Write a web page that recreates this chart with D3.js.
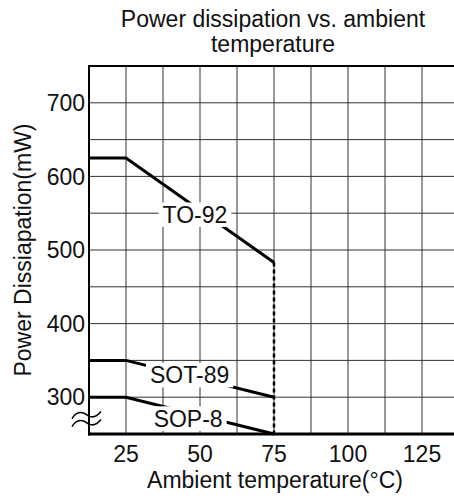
<!DOCTYPE html>
<html><head><meta charset="utf-8">
<script src="https://cdn.jsdelivr.net/npm/d3@7"></script>
<style>
html,body{margin:0;padding:0;background:#fff;overflow:hidden;}
text{font-family:Arial,"Liberation Sans",sans-serif;fill:#111;}
</style></head>
<body><svg id="c" width="454" height="498"></svg>
<script>
const title = ["Power dissipation vs. ambient", "temperature"];
const xLabel = "Ambient temperature(°C)";
const yLabel = "Power Dissiapation(mW)";
const xTicks = [25, 50, 75, 100, 125];
const yTicks = [300, 400, 500, 600, 700];
const xGrid = [25, 37.5, 50, 62.5, 75, 87.5, 100, 112.5, 125];
const yGrid = [300, 350, 400, 450, 500, 550, 600, 650, 700];
const xDomain = [12.5, 137.5];
const yDomain = [250, 750];
const temps = [12.5, 25, 75];
const seriesNames = ["TO-92", "SOT-89", "SOP-8"];
const seriesValues = [[625, 625, 483], [350, 350, 300], [300, 300, 250]];
const labelPos = [[48.3, 548], [46.5, 330], [46, 271]];
const cutoffTemp = 75;

const svg = d3.select("#c");
const x = d3.scaleLinear().domain(xDomain).range([89, 459]);
const y = d3.scaleLinear().domain(yDomain).range([434, 66]);
const fs = 23;

// grid
svg.append("g").selectAll("line").data(xGrid).join("line")
  .attr("x1", d => x(d)).attr("x2", d => x(d)).attr("y1", y(yDomain[1])).attr("y2", y(yDomain[0]))
  .attr("stroke", "#333").attr("stroke-width", 1);
svg.append("g").selectAll("line").data(yGrid).join("line")
  .attr("x1", x(xDomain[0])).attr("x2", x(xDomain[1])).attr("y1", d => y(d)).attr("y2", d => y(d))
  .attr("stroke", "#333").attr("stroke-width", 1);

// series lines
const line = d3.line().x(d => x(d[0])).y(d => y(d[1]));
seriesValues.forEach(vals => {
  svg.append("path").datum(temps.map((t, i) => [t, vals[i]]))
    .attr("d", line).attr("fill", "none").attr("stroke", "#000").attr("stroke-width", 3);
});
// dashed cutoff
svg.append("line").attr("x1", x(cutoffTemp)).attr("x2", x(cutoffTemp))
  .attr("y1", y(seriesValues[0][2])).attr("y2", y(yDomain[0]))
  .attr("stroke", "#000").attr("stroke-width", 2.5).attr("stroke-dasharray", "4,3");

// labels with white boxes
seriesNames.forEach((n, i) => {
  const g = svg.append("g");
  const base = y(labelPos[i][1]) + 0.358 * fs;
  const t = g.append("text").attr("x", x(labelPos[i][0])).attr("y", base)
    .attr("text-anchor", "middle").attr("font-size", fs).text(n);
  const b = t.node().getBBox();
  const top = base - 0.716 * fs - 4;
  g.insert("rect", "text").attr("x", b.x - 4).attr("y", top).attr("width", b.width + 8).attr("height", base + 4 - top)
    .attr("fill", "#fff");
});

// frame
svg.append("line").attr("x1", x(xDomain[0])).attr("x2", x(xDomain[1])).attr("y1", y(yDomain[1])).attr("y2", y(yDomain[1]))
  .attr("stroke", "#000").attr("stroke-width", 2);
svg.append("line").attr("x1", x(xDomain[0])).attr("x2", x(xDomain[0])).attr("y1", y(yDomain[1]) - 1).attr("y2", y(yDomain[0]) + 1.5)
  .attr("stroke", "#000").attr("stroke-width", 2);
svg.append("line").attr("x1", x(xDomain[0]) - 1).attr("x2", x(xDomain[1])).attr("y1", y(yDomain[0])).attr("y2", y(yDomain[0]))
  .attr("stroke", "#000").attr("stroke-width", 3);

// break symbol
const bx = x(xDomain[0]), by = y(271);
[-4, 4].forEach(dy => {
  svg.append("path")
    .attr("d", `M${bx-17},${by+dy+4} C${bx-12},${by+dy-4} ${bx-6},${by+dy-3} ${bx-1},${by+dy+1} C${bx+4},${by+dy+4} ${bx+8},${by+dy+2} ${bx+12},${by+dy-3}`)
    .attr("fill", "none").attr("stroke", "#000").attr("stroke-width", 1.5);
});

// tick labels
svg.append("g").selectAll("text").data(xTicks).join("text")
  .attr("x", d => x(d)).attr("y", 462).attr("text-anchor", "middle").attr("font-size", fs).text(d => d);
svg.append("g").selectAll("text").data(yTicks).join("text")
  .attr("x", 85).attr("y", d => y(d)).attr("dy", "0.36em").attr("text-anchor", "end").attr("font-size", fs).text(d => d);

// axis titles
svg.append("text").attr("x", 275).attr("y", 488).attr("text-anchor", "middle").attr("font-size", fs).text(xLabel);
svg.append("text").attr("transform", `translate(31,${(y(yDomain[0]) + y(yDomain[1])) / 2}) rotate(-90)`)
  .attr("text-anchor", "middle").attr("font-size", fs).text(yLabel);

// title
svg.append("g").selectAll("text").data(title).join("text")
  .attr("x", 273).attr("y", (d, i) => 27 + i * 25).attr("text-anchor", "middle").attr("font-size", fs).text(d => d);
</script></body></html>
